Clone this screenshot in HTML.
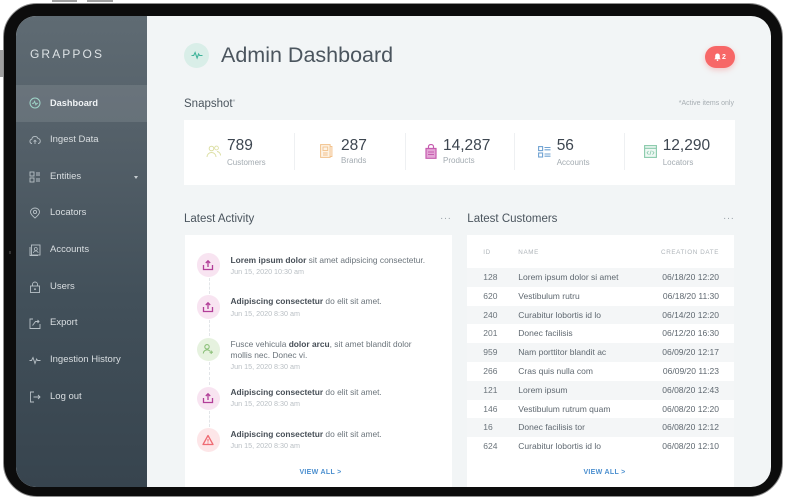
<!DOCTYPE html>
<html><head><meta charset="utf-8">
<style>
*{margin:0;padding:0;box-sizing:border-box}
html,body{width:785px;height:500px;overflow:hidden;background:#fff;font-family:"Liberation Sans",sans-serif}
.a{position:absolute;white-space:nowrap}
#frame{position:absolute;left:3px;top:3px;width:780px;height:494px;border-radius:34px;background:#0c0c0c;border:1px solid #8e8e8e}
#screen{position:absolute;left:16px;top:16px;width:755px;height:471px;border-radius:20px;overflow:hidden;background:#f2f5f6}
.sb{position:absolute;left:0;top:0;width:131px;height:471px;background:linear-gradient(180deg,#5f6b73 0%,#525e67 30%,#42505a 60%,#37444e 100%)}
.si{position:absolute;left:34px;font-size:9.5px;line-height:12px;color:#d9dee1}
.sic{position:absolute;left:13px;width:12px;height:12px}
.card{position:absolute;background:#fff}
.num{position:absolute;font-size:15.5px;line-height:16px;color:#3d4650}
.lbl{position:absolute;font-size:8px;line-height:9px;color:#a3abb1}
.div{position:absolute;top:13px;width:1px;height:37px;background:#eef0f2}
.h2{position:absolute;font-size:11.5px;line-height:14px;color:#4b555e}
.dots{position:absolute;font-size:10px;line-height:10px;color:#9aa2a8;letter-spacing:0.5px}
.ci{position:absolute;left:12.3px;width:23.4px;height:23.4px;border-radius:50%}
.ci svg{position:absolute;left:5.7px;top:5.7px}
.t1{position:absolute;left:46px;font-size:8.4px;line-height:10px;color:#6b747b}
.t1 b{color:#474f57}
.dt{position:absolute;left:46px;font-size:7.2px;line-height:8px;color:#b9bfc4}
.conn{position:absolute;left:24px;width:0;border-left:1px dashed #e2e5e8}
.va{position:absolute;left:0;width:100%;text-align:center;font-size:7px;line-height:9px;color:#4b8fcf;font-weight:bold;letter-spacing:0.3px}
.th{position:absolute;top:13px;font-size:6.3px;line-height:9px;color:#afb5ba;letter-spacing:0.6px}
.row{position:absolute;left:0;width:267px;height:18.8px;font-size:8.5px;line-height:18.8px;color:#5f6870}
.row span{position:absolute}
.row .i{left:16.3px;color:#6a737a}
.row .n{left:51.3px}
.row .d{right:15px}
.g{background:#f4f6f7}
</style></head><body>
<div class="a" style="left:52px;top:0;width:25px;height:2px;background:#a0a0a0"></div>
<div class="a" style="left:87px;top:0;width:26px;height:2px;background:#a0a0a0"></div>
<div class="a" style="left:0;top:50px;width:3px;height:27px;background:#a0a0a0"></div>
<div id="frame"></div>
<div class="a" style="left:9px;top:251px;width:2px;height:3px;background:#333"></div>
<div id="screen">
  <div class="sb">
    <div class="a" style="left:14px;top:31px;font-size:12px;letter-spacing:2.1px;color:#dde2e5;line-height:14px">GRAPPOS</div>
    <div class="a" style="left:0;top:69px;width:131px;height:37px;background:rgba(255,255,255,0.1)"></div>
    <svg class="sic" style="top:80.7px" viewBox="0 0 12 12"><circle cx="6" cy="6" r="5" fill="none" stroke="#9fd6c9" stroke-width="1"/><path d="M3 6.3h1.6l1-2 1.3 3.5 1-1.5H9" fill="none" stroke="#9fd6c9" stroke-width="0.9"/></svg>
    <svg class="sic" style="top:118px" viewBox="0 0 12 12"><path d="M3 9.5H2.6A2.2 2.2 0 0 1 2.8 5.2 3.2 3.2 0 0 1 9 4.6a2.5 2.5 0 0 1 .4 4.9H9" fill="none" stroke="#b7c0c6" stroke-width="0.9"/><path d="M6 10V6.3M4.6 7.6 6 6.2l1.4 1.4" fill="none" stroke="#b7c0c6" stroke-width="0.9"/></svg>
    <svg class="sic" style="top:154.7px" viewBox="0 0 12 12"><rect x="1" y="1" width="4" height="4" fill="none" stroke="#b7c0c6" stroke-width="0.9"/><rect x="1" y="7" width="4" height="4" fill="none" stroke="#b7c0c6" stroke-width="0.9"/><path d="M7 2h4M7 4h4M7 8h4M7 10h4" stroke="#b7c0c6" stroke-width="0.9"/></svg>
    <svg class="sic" style="top:191.3px" viewBox="0 0 12 12"><path d="M6 11C3 8.5 1.5 6.5 1.5 5a4.5 4 0 0 1 9 0c0 1.5-1.5 3.5-4.5 6z" fill="none" stroke="#b7c0c6" stroke-width="0.9"/><circle cx="6" cy="5" r="1.6" fill="none" stroke="#b7c0c6" stroke-width="0.9"/></svg>
    <svg class="sic" style="top:228px" viewBox="0 0 12 12"><rect x="2.5" y="1" width="8.5" height="10" fill="none" stroke="#b7c0c6" stroke-width="0.9"/><path d="M1 3v8.5h8" fill="none" stroke="#b7c0c6" stroke-width="0.9"/><circle cx="6.8" cy="5" r="1.5" fill="none" stroke="#b7c0c6" stroke-width="0.8"/><path d="M4.5 9a2.3 2 0 0 1 4.6 0" fill="none" stroke="#b7c0c6" stroke-width="0.8"/></svg>
    <svg class="sic" style="top:264.7px" viewBox="0 0 12 12"><rect x="1.5" y="5" width="9" height="6.5" fill="none" stroke="#b7c0c6" stroke-width="0.9"/><path d="M3.5 5V3.5a2.5 2.5 0 0 1 5 0V5" fill="none" stroke="#b7c0c6" stroke-width="0.9"/><circle cx="6" cy="8.2" r="0.9" fill="#b7c0c6"/></svg>
    <svg class="sic" style="top:301.3px" viewBox="0 0 12 12"><path d="M4 2H1v9.5h10V7" fill="none" stroke="#b7c0c6" stroke-width="0.9"/><path d="M3.5 8.5 6.5 4.5H10M8.5 3 10 4.5 8.5 6" fill="none" stroke="#b7c0c6" stroke-width="0.9"/></svg>
    <svg class="sic" style="top:338px" viewBox="0 0 12 12"><path d="M0.5 6.5h2l1.5-3 2 6 1.6-4.5 1 1.5h2.9" fill="none" stroke="#b7c0c6" stroke-width="0.9"/></svg>
    <svg class="sic" style="top:374.7px" viewBox="0 0 12 12"><path d="M5 1H1.5v10H5" fill="none" stroke="#b7c0c6" stroke-width="0.9"/><path d="M4.5 6h6.5M9 4l2 2-2 2" fill="none" stroke="#b7c0c6" stroke-width="0.9"/></svg>
    <div class="si" style="top:80.7px;font-weight:bold;color:#f0f3f5;font-size:9.2px">Dashboard</div>
    <div class="si" style="top:118px">Ingest Data</div>
    <div class="si" style="top:154.7px">Entities</div>
    <div class="a" style="left:117.5px;top:159.5px;width:0;height:0;border-left:2.5px solid transparent;border-right:2.5px solid transparent;border-top:3px solid #c5ccd0"></div>
    <div class="si" style="top:191.3px">Locators</div>
    <div class="si" style="top:228px">Accounts</div>
    <div class="si" style="top:264.7px">Users</div>
    <div class="si" style="top:301.3px">Export</div>
    <div class="si" style="top:338px">Ingestion History</div>
    <div class="si" style="top:374.7px">Log out</div>
  </div>

  <div class="a" style="left:168px;top:26.5px;width:25px;height:25px;border-radius:50%;background:#d9eee8"></div>
  <svg class="a" style="left:174.5px;top:33px" width="12" height="12" viewBox="0 0 12 12"><path d="M0.5 6.5h2.2l1.4-3 2 5.5 1.5-4 1 1.5h2.9" fill="none" stroke="#3fb39a" stroke-width="1.1"/></svg>
  <div class="a" style="left:205px;top:27.3px;font-size:21.5px;line-height:24px;color:#4b555e">Admin Dashboard</div>
  <div class="a" style="left:689px;top:30px;width:30px;height:22px;border-radius:11px;background:#f76767;box-shadow:0 2px 6px rgba(247,103,103,0.35)"></div>
  <svg class="a" style="left:697.5px;top:37px" width="7" height="8" viewBox="0 0 7 8"><path d="M3.5 0.5a2.3 2.3 0 0 1 2.3 2.3V5l0.9 1.2H0.3L1.2 5V2.8A2.3 2.3 0 0 1 3.5 0.5z" fill="#fff"/><circle cx="3.5" cy="7.2" r="0.8" fill="#fff"/></svg>
  <div class="a" style="left:706px;top:36.5px;font-size:7px;line-height:9px;color:#fff;font-weight:bold">2</div>

  <div class="a" style="left:168px;top:79.5px;font-size:11.5px;line-height:14px;color:#4b555e">Snapshot<span style="font-size:7px;vertical-align:3px;color:#9aa2a8">*</span></div>
  <div class="a" style="right:37px;top:84px;font-size:7px;line-height:8px;color:#a6adb2">*Active items only</div>

  <div class="card" style="left:168px;top:104px;width:551px;height:65px">
    <div class="div" style="left:110px"></div>
    <div class="div" style="left:221px"></div>
    <div class="div" style="left:330px"></div>
    <div class="div" style="left:440px"></div>
    <svg class="a" style="left:22px;top:25px" width="15" height="13" viewBox="0 0 15 13"><circle cx="5.5" cy="3.5" r="2.3" fill="none" stroke="#dcdfa4" stroke-width="1"/><path d="M1 12a4.5 4.5 0 0 1 9 0" fill="none" stroke="#dcdfa4" stroke-width="1"/><circle cx="10.5" cy="3" r="1.9" fill="none" stroke="#dcdfa4" stroke-width="0.9"/><path d="M11 6.5a3.8 3.8 0 0 1 3.5 4" fill="none" stroke="#dcdfa4" stroke-width="0.9"/></svg>
    <div class="num" style="left:43px;top:18.2px">789</div>
    <div class="lbl" style="left:43px;top:38.2px">Customers</div>

    <svg class="a" style="left:136px;top:24px" width="13" height="14" viewBox="0 0 13 14"><rect x="0.6" y="0.6" width="9.5" height="12.8" fill="#fdf3e6" stroke="#f2c28c" stroke-width="1"/><path d="M10.1 2.5h1.8v10h-1.8" fill="none" stroke="#f2c28c" stroke-width="1"/><rect x="3" y="3" width="4.7" height="3.5" fill="none" stroke="#f2c28c" stroke-width="0.9"/><path d="M3 9h4.7M3 11h4.7" stroke="#f2c28c" stroke-width="0.9"/></svg>
    <div class="num" style="left:157px;top:17.5px">287</div>
    <div class="lbl" style="left:157px;top:36.2px">Brands</div>

    <svg class="a" style="left:241px;top:24px" width="12" height="15" viewBox="0 0 12 15"><path d="M3.5 4V2.5a2.5 2 0 0 1 5 0V4" fill="none" stroke="#c65caf" stroke-width="1.2"/><path d="M1 4.5h10v9.8H1z" fill="#e4a6d6" stroke="#c65caf" stroke-width="1.2"/><path d="M3 8h6M3 10.5h6" stroke="#c65caf" stroke-width="1"/></svg>
    <div class="num" style="left:259px;top:17.5px">14,287</div>
    <div class="lbl" style="left:259px;top:36.2px">Products</div>

    <svg class="a" style="left:353.7px;top:25.5px" width="13" height="12" viewBox="0 0 13 12"><rect x="0.6" y="0.6" width="4" height="4" fill="none" stroke="#6fa2d2" stroke-width="1.1"/><rect x="0.6" y="7" width="4" height="4" fill="none" stroke="#6fa2d2" stroke-width="1.1"/><path d="M6.5 1.5h6M6.5 3.8h6M6.5 8h6M6.5 10.2h6" stroke="#6fa2d2" stroke-width="1.1"/></svg>
    <div class="num" style="left:372.7px;top:18.2px">56</div>
    <div class="lbl" style="left:372.7px;top:38.2px">Accounts</div>

    <svg class="a" style="left:460px;top:25px" width="13" height="13" viewBox="0 0 13 13"><rect x="0.6" y="0.6" width="11.8" height="11.8" fill="#eef8f3" stroke="#88c9ab" stroke-width="1.1"/><path d="M0.6 3.3h11.8" stroke="#88c9ab" stroke-width="1.1"/><path d="M4.5 6 3 7.8 4.5 9.6M8.5 6 10 7.8 8.5 9.6M7.2 5.5 5.8 10" fill="none" stroke="#88c9ab" stroke-width="0.8"/></svg>
    <div class="num" style="left:478.7px;top:18.2px">12,290</div>
    <div class="lbl" style="left:478.7px;top:38.2px">Locators</div>
  </div>

  <div class="h2" style="left:168px;top:196px">Latest Activity</div>
  <div class="dots" style="left:424px;top:198px">···</div>
  <div class="card" style="left:168.5px;top:219px;width:267px;height:260px">
    <div class="conn" style="top:43px;height:16px"></div>
    <div class="conn" style="top:85px;height:16px"></div>
    <div class="conn" style="top:127px;height:23px"></div>
    <div class="conn" style="top:176px;height:16px"></div>

    <div class="ci" style="top:18.3px;background:#f8e4f1"><svg width="12" height="12" viewBox="0 0 12 12"><path d="M1.5 6v4.5h9V6" fill="none" stroke="#b23e98" stroke-width="1.3"/><path d="M6 8V1.8M3.8 4 6 1.8 8.2 4" fill="none" stroke="#b23e98" stroke-width="1.3"/></svg></div>
    <div class="t1" style="top:20.3px"><b>Lorem ipsum dolor</b> sit amet adipsicing consectetur.</div>
    <div class="dt" style="top:32.7px">Jun 15, 2020 10:30 am</div>

    <div class="ci" style="top:60.3px;background:#f8e4f1"><svg width="12" height="12" viewBox="0 0 12 12"><path d="M1.5 6v4.5h9V6" fill="none" stroke="#b23e98" stroke-width="1.3"/><path d="M6 8V1.8M3.8 4 6 1.8 8.2 4" fill="none" stroke="#b23e98" stroke-width="1.3"/></svg></div>
    <div class="t1" style="top:61px"><b>Adipiscing consectetur</b> do elit sit amet.</div>
    <div class="dt" style="top:75px">Jun 15, 2020 8:30 am</div>

    <div class="ci" style="top:102.6px;background:#e6f2df"><svg width="12" height="12" viewBox="0 0 12 12"><circle cx="5" cy="3.8" r="2.2" fill="none" stroke="#8cc07a" stroke-width="1.1"/><path d="M1.3 10.5a3.8 3.8 0 0 1 6.5-2.5" fill="none" stroke="#8cc07a" stroke-width="1.1"/><path d="M9.2 7.5v3.5M7.5 9.2h3.5" stroke="#8cc07a" stroke-width="1.1"/></svg></div>
    <div class="t1" style="top:104.3px">Fusce vehicula <b>dolor arcu</b>, sit amet blandit dolor</div>
    <div class="t1" style="top:115px">mollis nec. Donec vi.</div>
    <div class="dt" style="top:127.7px">Jun 15, 2020 8:30 am</div>

    <div class="ci" style="top:151.6px;background:#f8e4f1"><svg width="12" height="12" viewBox="0 0 12 12"><path d="M1.5 6v4.5h9V6" fill="none" stroke="#b23e98" stroke-width="1.3"/><path d="M6 8V1.8M3.8 4 6 1.8 8.2 4" fill="none" stroke="#b23e98" stroke-width="1.3"/></svg></div>
    <div class="t1" style="top:152.3px"><b>Adipiscing consectetur</b> do elit sit amet.</div>
    <div class="dt" style="top:165px">Jun 15, 2020 8:30 am</div>

    <div class="ci" style="top:193.3px;background:#fde6e8"><svg width="12" height="12" viewBox="0 0 12 12"><path d="M6 1.5 11 10.5H1z" fill="none" stroke="#ef6b73" stroke-width="1.3" stroke-linejoin="round"/><path d="M6 5v2.6" stroke="#ef6b73" stroke-width="1.1"/><circle cx="6" cy="9" r="0.6" fill="#ef6b73"/></svg></div>
    <div class="t1" style="top:194.3px"><b>Adipiscing consectetur</b> do elit sit amet.</div>
    <div class="dt" style="top:207px">Jun 15, 2020 8:30 am</div>

    <div class="va" style="top:233.2px;padding-left:5px">VIEW ALL &gt;</div>
  </div>

  <div class="h2" style="left:451.3px;top:196px">Latest Customers</div>
  <div class="dots" style="left:707px;top:198px">···</div>
  <div class="card" style="left:451px;top:219px;width:267px;height:260px">
    <div class="th" style="left:16.3px">ID</div>
    <div class="th" style="left:51.3px">NAME</div>
    <div class="th" style="right:15px">CREATION DATE</div>
    <div class="row g" style="top:33px"><span class="i">128</span><span class="n">Lorem ipsum dolor si amet</span><span class="d">06/18/20 12:20</span></div>
    <div class="row" style="top:51.8px"><span class="i">620</span><span class="n">Vestibulum rutru</span><span class="d">06/18/20 11:30</span></div>
    <div class="row g" style="top:70.6px"><span class="i">240</span><span class="n">Curabitur lobortis id lo</span><span class="d">06/14/20 12:20</span></div>
    <div class="row" style="top:89.4px"><span class="i">201</span><span class="n">Donec facilisis</span><span class="d">06/12/20 16:30</span></div>
    <div class="row g" style="top:108.2px"><span class="i">959</span><span class="n">Nam porttitor blandit ac</span><span class="d">06/09/20 12:17</span></div>
    <div class="row" style="top:127px"><span class="i">266</span><span class="n">Cras quis nulla com</span><span class="d">06/09/20 11:23</span></div>
    <div class="row g" style="top:145.8px"><span class="i">121</span><span class="n">Lorem ipsum</span><span class="d">06/08/20 12:43</span></div>
    <div class="row" style="top:164.6px"><span class="i">146</span><span class="n">Vestibulum rutrum quam</span><span class="d">06/08/20 12:20</span></div>
    <div class="row g" style="top:183.4px"><span class="i">16</span><span class="n">Donec facilisis tor</span><span class="d">06/08/20 12:12</span></div>
    <div class="row" style="top:202.2px"><span class="i">624</span><span class="n">Curabitur lobortis id lo</span><span class="d">06/08/20 12:10</span></div>
    <div class="va" style="top:233.2px;padding-left:8px">VIEW ALL &gt;</div>
  </div>
</div>
</body></html>
